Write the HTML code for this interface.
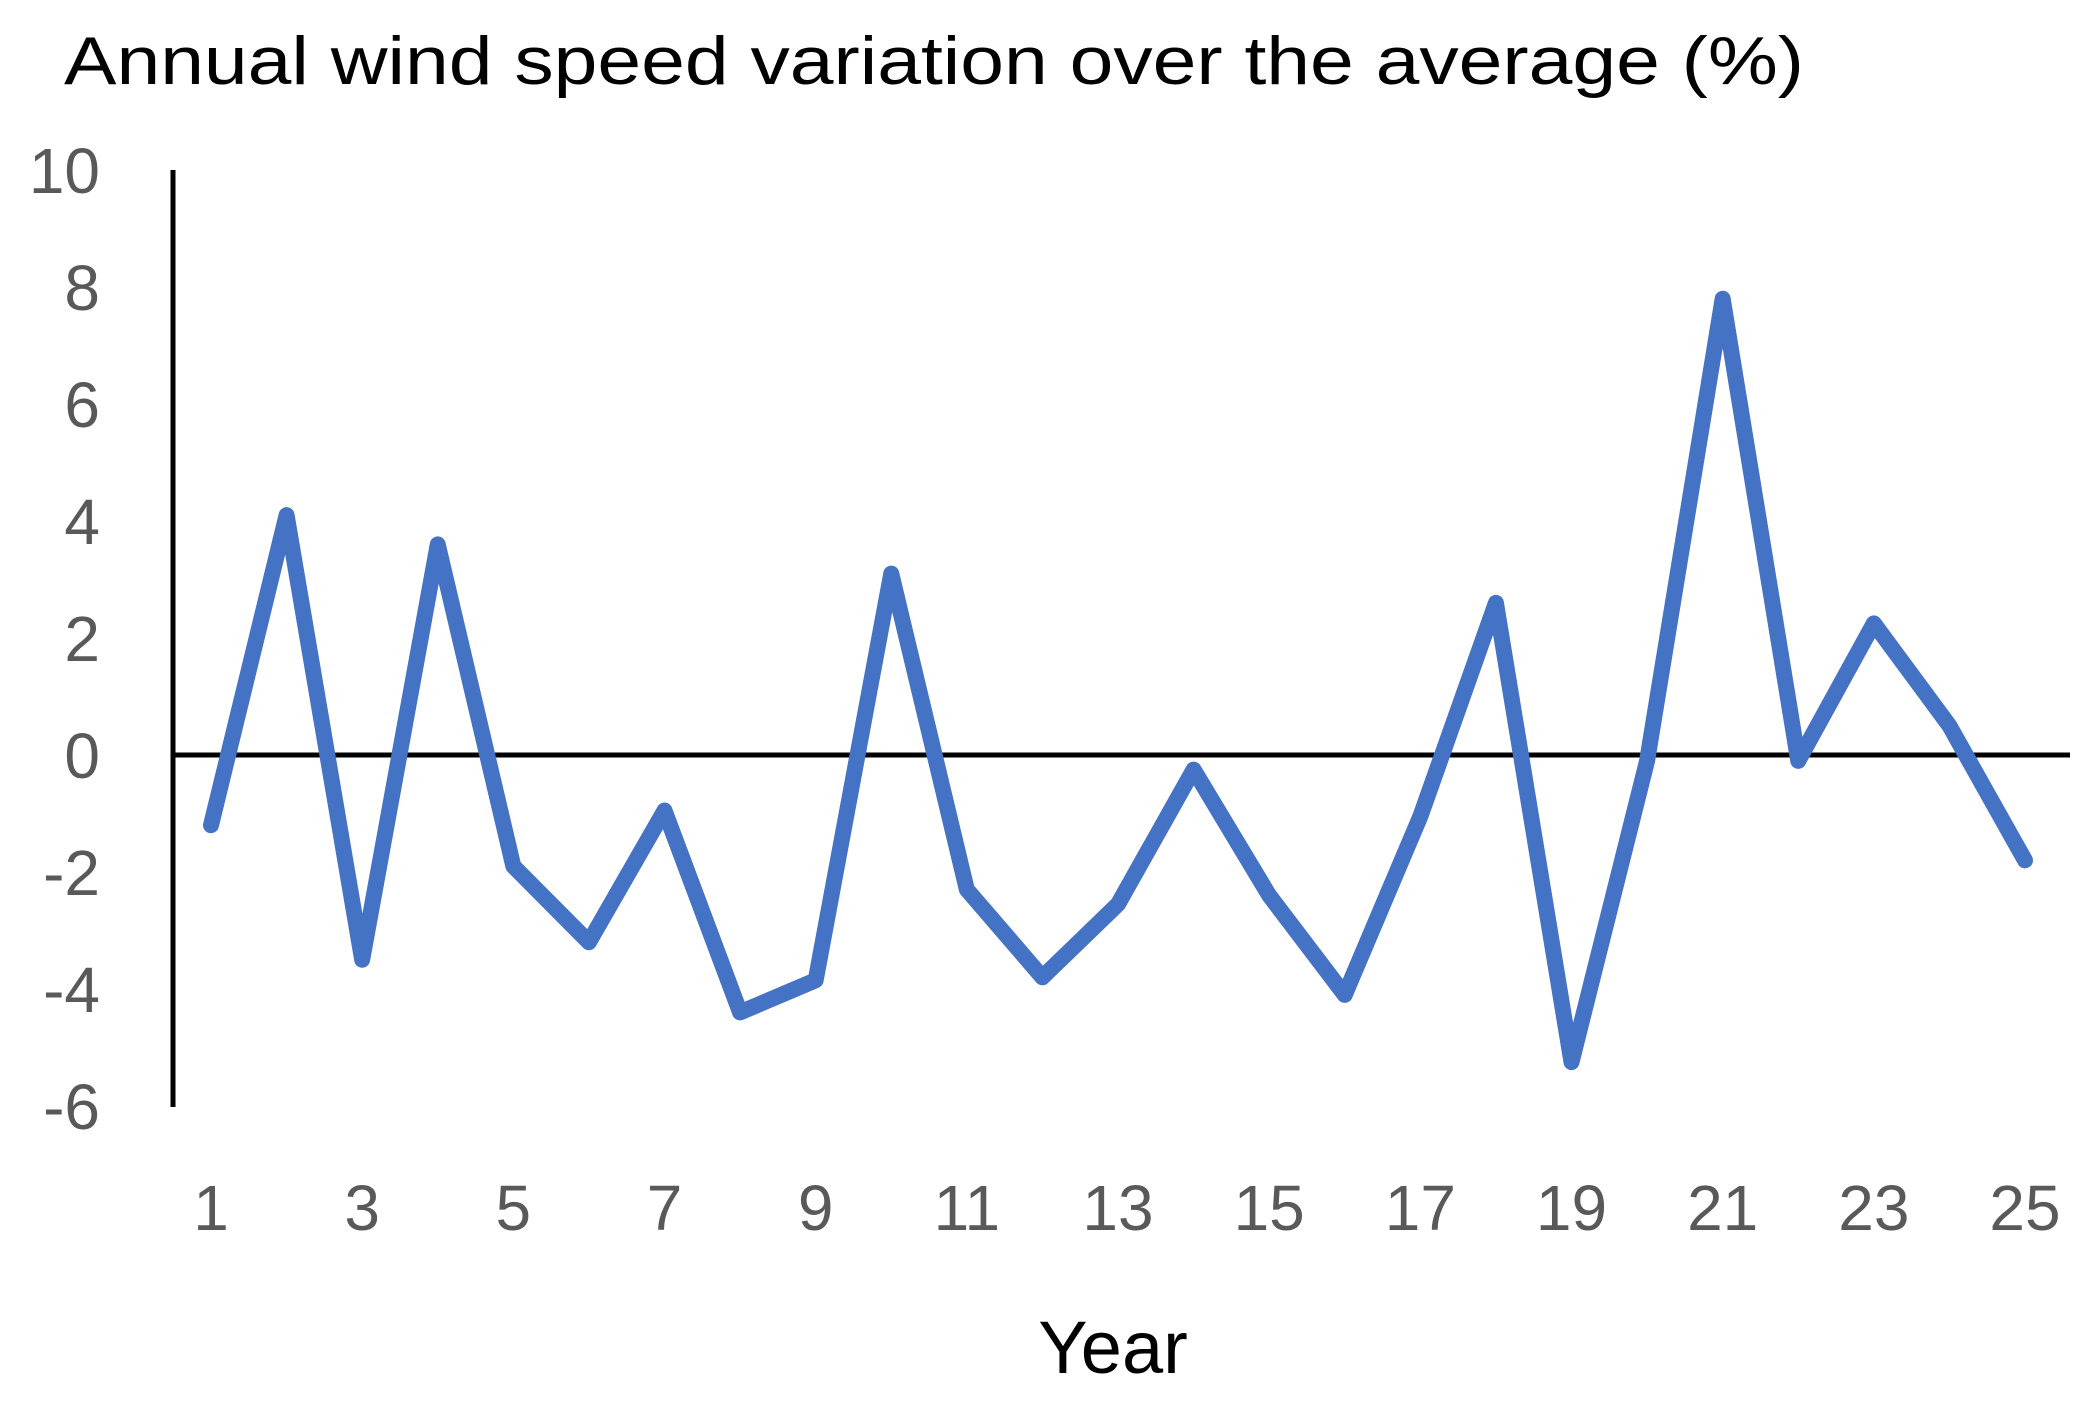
<!DOCTYPE html>
<html><head><meta charset="utf-8"><style>
html,body{margin:0;padding:0;background:#fff;}
svg{display:block;font-family:"Liberation Sans",sans-serif;}
</style></head><body>
<svg id="chart" width="2095" height="1402" viewBox="0 0 2095 1402">
<text x="64" y="84" font-size="68" fill="#000" textLength="1740" lengthAdjust="spacingAndGlyphs">Annual wind speed variation over the average (%)</text>
<g id="yticks"></g>
<g id="xticks"></g>
<line x1="173" y1="170" x2="173" y2="1107" stroke="#000" stroke-width="5"/>
<line x1="173" y1="755" x2="2070" y2="755" stroke="#000" stroke-width="5"/>
<polyline id="series" fill="none" stroke="#4472C4" stroke-width="16" stroke-linejoin="round" stroke-linecap="round"/>
<text x="1113" y="1373" font-size="74" text-anchor="middle" fill="#000">Year</text>
</svg>
<script>
const years = [1,2,3,4,5,6,7,8,9,10,11,12,13,14,15,16,17,18,19,20,21,22,23,24,25];
const values = [-1.2,4.1,-3.5,3.6,-1.9,-3.2,-0.95,-4.4,-3.85,3.1,-2.3,-3.8,-2.55,-0.25,-2.4,-4.1,-1.05,2.6,-5.25,-0.1,7.8,-0.1,2.25,0.5,-1.8];
const yTicks = [10,8,6,4,2,0,-2,-4,-6];
const xTickLabels = [1,3,5,7,9,11,13,15,17,19,21,23,25];
const NS = "http://www.w3.org/2000/svg";
function xs(v){return 211 + (v-1)*(2025-211)/24;}
function ys(v){return 755 - v*(755-170)/10;}
const yg = document.getElementById('yticks');
yTicks.forEach(t=>{
  const el=document.createElementNS(NS,'text');
  
  
  el.setAttribute('x',100);el.setAttribute('y',ys(t)+23);
  el.setAttribute('text-anchor','end');el.setAttribute('font-size','64');el.setAttribute('fill','#595959');
  el.textContent=t;yg.appendChild(el);
});
const xg = document.getElementById('xticks');
xTickLabels.forEach(t=>{
  const el=document.createElementNS(NS,'text');
  
  
  el.setAttribute('x',xs(t));el.setAttribute('y',1230);
  el.setAttribute('text-anchor','middle');el.setAttribute('font-size','64');el.setAttribute('fill','#595959');
  el.textContent=t;xg.appendChild(el);
});
document.getElementById('series').setAttribute('points', years.map((y,i)=>xs(y)+','+ys(values[i])).join(' '));
</script>
</body></html>
